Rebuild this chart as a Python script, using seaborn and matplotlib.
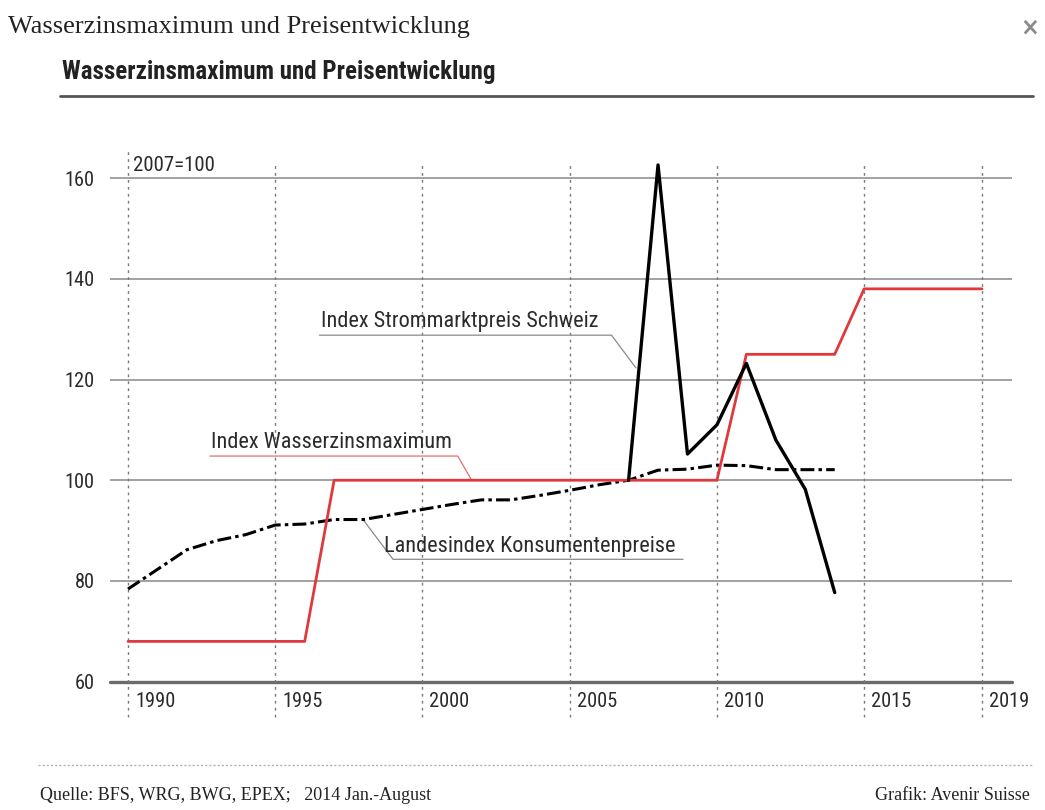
import numpy as np
import pandas as pd
import matplotlib.pyplot as plt
from matplotlib import font_manager
import seaborn as sns

# values (index, 2007=100)
years_wz = list(range(1990, 2020))
wasserzins = [68] * 7 + [100] * 14 + [125] * 4 + [138] * 5

years_cpi = list(range(1990, 2015))
cpi = [78.4, 82.3, 86.2, 88.0, 89.2, 91.1, 91.3, 92.2, 92.2, 93.2,
       94.2, 95.2, 96.1, 96.1, 97.0, 98.0, 99.1, 100.0, 102.0, 102.2,
       103.0, 102.9, 102.1, 102.1, 102.1]

years_strom = list(range(2007, 2015))
strom = [100, 162.6, 105.2, 111.0, 123.2, 108.0, 98.2, 77.7]

x_ticks = [1990, 1995, 2000, 2005, 2010, 2015, 2019]
y_ticks = [60, 80, 100, 120, 140, 160]

df_wz = pd.DataFrame({'year': years_wz, 'value': wasserzins})
df_cpi = pd.DataFrame({'year': years_cpi, 'value': cpi})
df_strom = pd.DataFrame({'year': years_strom, 'value': strom})

sns.set_style("white")

# a narrow sans if one is around, else DejaVu
have = {f.name for f in font_manager.fontManager.ttflist}
narrow = [n for n in ['Liberation Sans Narrow', 'Roboto Condensed',
                      'DejaVu Sans Condensed'] if n in have]
plt.rcParams['font.family'] = narrow + ['DejaVu Sans']
plt.rcParams['font.stretch'] = 'condensed'
plt.rcParams['lines.scale_dashes'] = False

RED = '#e0393c'
GRID = '#9a9a9a'
TXT = '#2b2b2b'

fig = plt.figure(figsize=(10.45, 8.10), dpi=100)
ax = fig.add_axes([0.1053, 0.1584, 0.8631, 0.6591])
ax.set_xlim(1989.39, 2020.02)
ax.set_ylim(60, 166)

# grid: solid horizontals, dotted verticals
for v in y_ticks[1:]:
    ax.axhline(v, color=GRID, lw=1.3, zorder=1)
ax.axhline(60, color='#6a6a6a', lw=2.4, zorder=1, clip_on=False)
for yr in x_ticks:
    top = 166 if yr == 1990 else 163
    ax.vlines(yr, 53.0, top, color='#7a7a7a', lw=1.0,
              linestyles=(0, (2, 3)), zorder=1, clip_on=False)

# series
sns.lineplot(data=df_cpi, x='year', y='value', ax=ax, color='black',
             lw=2.2, zorder=3)
ax.lines[-1].set_dashes((10, 3, 2.5, 3))
sns.lineplot(data=df_wz, x='year', y='value', ax=ax, color=RED,
             lw=2.0, zorder=4)
sns.lineplot(data=df_strom, x='year', y='value', ax=ax, color='black',
             lw=2.4, zorder=5)

# ticks: y labels left of the grid, x labels right of each dotted line
ax.set_yticks(y_ticks)
ax.set_yticklabels([str(v) for v in y_ticks], fontsize=14.7, color=TXT)
ax.set_xticks(x_ticks)
ax.set_xticklabels([])
for yr in x_ticks:
    ax.annotate(str(yr), xy=(yr, 0), xycoords=('data', 'axes fraction'),
                xytext=(5, -14), textcoords='offset points',
                fontsize=14.7, color=TXT, ha='left', va='center')
ax.tick_params(axis='both', length=0)
ax.tick_params(axis='y', pad=11)
ax.set_xlabel('')
ax.set_ylabel('')
for s in ax.spines.values():
    s.set_visible(False)

# annotations with leader lines
ax.text(1990.17, 162.4, '2007=100', fontsize=15, color=TXT, va='center')

ax.text(1996.55, 131.6, 'Index Strommarktpreis Schweiz', fontsize=16,
        color=TXT, va='center')
ax.plot([1996.5, 2006.42, 2007.25], [128.8, 128.8, 122.3],
        color='#8a8a8a', lw=0.9, zorder=2)

ax.text(1992.82, 107.5, 'Index Wasserzinsmaximum', fontsize=16,
        color=TXT, va='center')
ax.plot([1992.78, 2001.2, 2001.67], [104.8, 104.8, 100],
        color='#e07070', lw=0.9, zorder=2)

ax.text(1998.69, 86.8, 'Landesindex Konsumentenpreise', fontsize=16,
        color=TXT, va='center')
ax.plot([2008.85, 1999.0, 1997.98], [84.3, 84.3, 92.2],
        color='#8a8a8a', lw=0.9, zorder=2)

# header and footer
fig.text(8 / 1045, 1 - 27 / 810, 'Wasserzinsmaximum und Preisentwicklung',
         family='Liberation Serif', fontsize=19, color='#222222', va='center')
fig.text(1030 / 1045, 1 - 27 / 810, '×', fontsize=18, color='#8a8a8a',
         fontweight='bold', ha='center', va='center', family='DejaVu Sans')
fig.text(62 / 1045, 1 - 72 / 810, 'Wasserzinsmaximum und Preisentwicklung',
         fontsize=18, fontweight='bold', color='#222222', va='center')
fig.add_artist(plt.Line2D([60 / 1045, 1033 / 1045], [1 - 96 / 810] * 2,
                          color='#555555', lw=2.0))
fig.add_artist(plt.Line2D([38 / 1045, 1033 / 1045], [1 - 765 / 810] * 2,
                          color='#b0b0b0', lw=1.0, ls=(0, (1.5, 1.5))))
fig.text(40 / 1045, 1 - 796 / 810, 'Quelle: BFS, WRG, BWG, EPEX;   2014 Jan.-August',
         family='Liberation Serif', fontsize=13, color='#222222', va='center')
fig.text(1030 / 1045, 1 - 796 / 810, 'Grafik: Avenir Suisse',
         family='Liberation Serif', fontsize=13, color='#222222',
         va='center', ha='right')

fig.savefig('out.png', dpi=100)
